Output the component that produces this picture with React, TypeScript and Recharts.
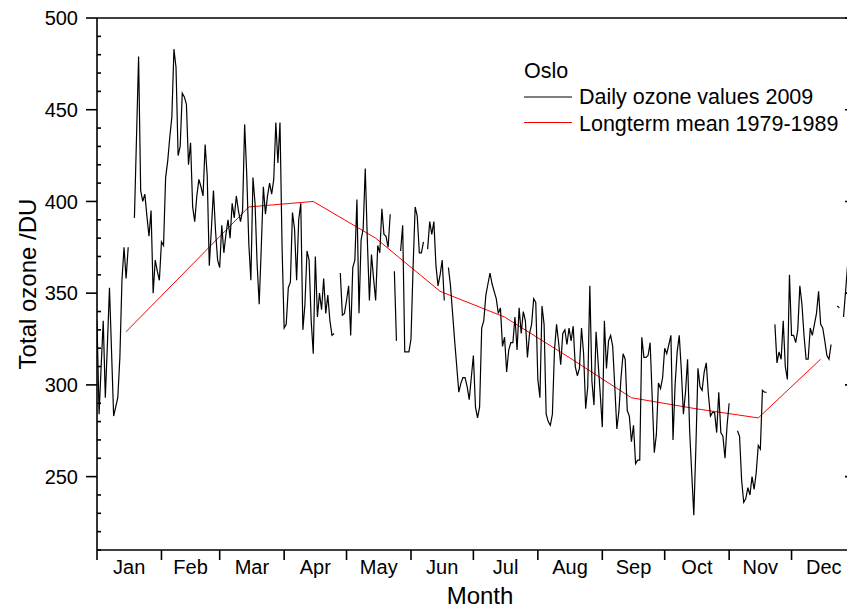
import React from 'react';
import { LineChart, Line, XAxis, YAxis, Customized } from 'recharts';

const FONT = '"Liberation Sans", Arial, Helvetica, sans-serif';

const monthNames = ['Jan', 'Feb', 'Mar', 'Apr', 'May', 'Jun', 'Jul', 'Aug', 'Sep', 'Oct', 'Nov', 'Dec'];
const monthStartDays = [0, 31, 59, 90, 120, 151, 181, 212, 243, 273, 304, 334, 365];
const yMajorTicks = [250, 300, 350, 400, 450, 500];
const yMinorTicks = [210, 220, 230, 240, 260, 270, 280, 290, 310, 320, 330, 340, 360, 370, 380, 390, 410, 420, 430, 440, 460, 470, 480, 490];

// Daily total ozone, Oslo 2009 (index = day of year, 0 = 1 Jan); null = missing
const ozone2009: (number | null)[] = [
  335, 284, 310, 335, 293, 322, 353, 318, 283, 288,
  293, 315, 357, 375, 358, 375, null, null, 391, 435,
  479, 406, 400, 404, 392, 381, 395, 350, 368, 362,
  357, 378, 376, 413, 422, 435, 446, 483, 473, 425,
  430, 459, 457, 453, 420, 432, 397, 389, 403, 412,
  408, 403, 431, 414, 365, 385, 406, 384, 368, 364,
  387, 372, 382, 390, 380, 399, 391, 403, 395, 389,
  395, 442, 415, 377, 357, 413, 399, 366, 344, 375,
  408, 393, 403, 410, 404, 412, 443, 421, 443, 375,
  331, 333, 353, 356, 394, 385, 357, 390, 399, 330,
  344, 373, 368, 335, 317, 370, 337, 350, 341, 358,
  339, 349, 335, 327, 328, null, null, 361, 338, 339,
  346, 354, 327, 364, 368, 401, 339, 379, 385, 418,
  379, 346, 371, 358, 346, 376, 372, 396, 382, 381,
  375, 393, null, 362, 324, null, 373, 387, 318, 318,
  318, 325, 364, 397, 392, 372, 372, 378, null, 374,
  389, 382, 389, 365, 354, 360, 368, 346, null, 364,
  354, 339, 324, 310, 296, 301, 304, 304, 299, 292,
  304, 316, 288, 282, 288, 331, 335, 349, 355, 361,
  355, 351, 347, 339, 342, 321, 326, 307, 319, 323,
  323, 337, 319, 342, 328, 340, 335, 315, 328, 333,
  347, 345, 303, 293, 343, 333, 284, 280, 278, 284,
  319, 333, 323, 311, 328, 330, 322, 331, 324, 332,
  310, 305, 309, 331, 317, 287, 299, 354, 302, 289,
  329, 312, 295, 277, 335, 309, 324, 327, 321, 299,
  276, 286, 304, 317, 314, 286, 283, 269, 278, 257,
  259, 259, 326, 315, 315, 316, 323, 293, 263, 273,
  301, 298, 304, 320, 317, 322, 327, 270, 300, 318,
  327, 308, 284, 296, 314, 275, 252, 229, 266, 309,
  299, 297, 307, 312, 295, 283, 285, 285, 274, 296,
  274, 272, 260, 278, 290, null, null, null, 275, 272,
  248, 236, 238, 244, 240, 250, 243, 252, 267, 265,
  297, 296, 296, null, null, null, 333, 312, 318, 314,
  335, 310, 303, 360, 327, 327, 323, 330, 354, 344,
  327, 314, 314, 331, 327, 333, 339, 351, 333, 331,
  324, 316, 314, 322, null, null, 343, 342, null, 337,
  351, 366, 368, 360, 355, 350,
];

// Long-term monthly mean 1979-1989 (mid-month day of year)
const meanDays = [14, 73, 104, 134, 165, 196, 227, 257, 288, 318, 348];
const meanValues = [329, 397, 400, 380, 351, 337, 315, 293, 287, 282, 314];

const monthMidDays = monthStartDays.slice(0, 12).map((s, i) => (s + monthStartDays[i + 1]) / 2);
const xTicks = [...monthStartDays, ...monthMidDays].sort((a, b) => a - b);

const dailyData = ozone2009.map((v, i) => ({ day: i, ozone: v }));
const meanData = meanDays.map((d, i) => ({ day: d, mean: meanValues[i] }));

const AXIS_W = 1.6;

const MonthTick = (props: any) => {
  const { x, y, payload } = props;
  const v = payload.value;
  if (monthStartDays.indexOf(v) >= 0) {
    return <line x1={x} x2={x} y1={y} y2={y + 10} stroke="#000" strokeWidth={AXIS_W} />;
  }
  const mi = monthMidDays.indexOf(v);
  return (
    <text x={x} y={y + 24} textAnchor="middle" fontSize={20} fontFamily={FONT} fill="#000">
      {monthNames[mi]}
    </text>
  );
};

const NoLabel = () => <g />;

const Overlay = () => (
  <g fontFamily={FONT} fill="#000">
    <text transform="translate(36,284) rotate(-90)" textAnchor="middle" fontSize={24}>
      Total ozone /DU
    </text>
    <text x={480} y={604} textAnchor="middle" fontSize={24}>
      Month
    </text>
    <text x={524} y={78} fontSize={21.5}>Oslo</text>
    <line x1={524} x2={572} y1={97} y2={97} stroke="#000" strokeWidth={1} />
    <text x={579} y={104} fontSize={21.5}>Daily ozone values 2009</text>
    <line x1={524} x2={572} y1={122.5} y2={122.5} stroke="#ff0000" strokeWidth={1} />
    <text x={579} y={130.5} fontSize={21.5}>Longterm mean 1979-1989</text>
  </g>
);

export default function App() {
  return (
    <div style={{ position: 'fixed', left: 0, top: 0, width: 847, height: 608, overflow: 'hidden', background: '#fff' }}>
      <LineChart width={870} height={608} margin={{ top: 18, right: 14, bottom: 0, left: 0 }}>
        <XAxis
          dataKey="day"
          type="number"
          domain={[0, 365]}
          allowDataOverflow
          ticks={xTicks}
          interval={0}
          tick={<MonthTick />}
          tickLine={false}
          tickSize={0}
          tickMargin={0}
          height={58}
          axisLine={{ stroke: '#000', strokeWidth: AXIS_W }}
        />
        <XAxis
          xAxisId="top"
          orientation="top"
          mirror
          type="number"
          domain={[0, 365]}
          allowDataOverflow
          ticks={monthStartDays}
          interval={0}
          tick={<NoLabel />}
          tickSize={10}
          tickLine={{ stroke: '#000', strokeWidth: AXIS_W }}
          axisLine={{ stroke: '#000', strokeWidth: AXIS_W }}
        />
        <YAxis
          yAxisId="main"
          type="number"
          domain={[210, 500]}
          allowDataOverflow
          ticks={yMajorTicks}
          interval={0}
          width={97}
          tickSize={11}
          tickMargin={8}
          tick={{ fontSize: 20, fill: '#000', fontFamily: FONT }}
          tickLine={{ stroke: '#000', strokeWidth: AXIS_W }}
          axisLine={{ stroke: '#000', strokeWidth: AXIS_W }}
        />
        <YAxis
          yAxisId="minor"
          orientation="left"
          mirror
          type="number"
          domain={[210, 500]}
          allowDataOverflow
          ticks={yMinorTicks}
          interval={0}
          tick={<NoLabel />}
          tickSize={4}
          tickLine={{ stroke: '#000', strokeWidth: AXIS_W }}
          axisLine={false}
        />
        <YAxis
          yAxisId="right"
          orientation="right"
          mirror
          type="number"
          domain={[210, 500]}
          allowDataOverflow
          ticks={yMajorTicks}
          interval={0}
          tick={<NoLabel />}
          tickSize={11}
          tickLine={{ stroke: '#000', strokeWidth: AXIS_W }}
          axisLine={{ stroke: '#000', strokeWidth: AXIS_W }}
        />
        <Line
          yAxisId="main"
          data={meanData}
          dataKey="mean"
          type="linear"
          stroke="#ff0000"
          strokeWidth={1}
          dot={false}
          activeDot={false}
          isAnimationActive={false}
        />
        <Line
          yAxisId="main"
          data={dailyData}
          dataKey="ozone"
          type="linear"
          stroke="#000"
          strokeWidth={1.2}
          dot={false}
          activeDot={false}
          connectNulls={false}
          isAnimationActive={false}
        />
        <Customized component={Overlay} />
      </LineChart>
    </div>
  );
}
